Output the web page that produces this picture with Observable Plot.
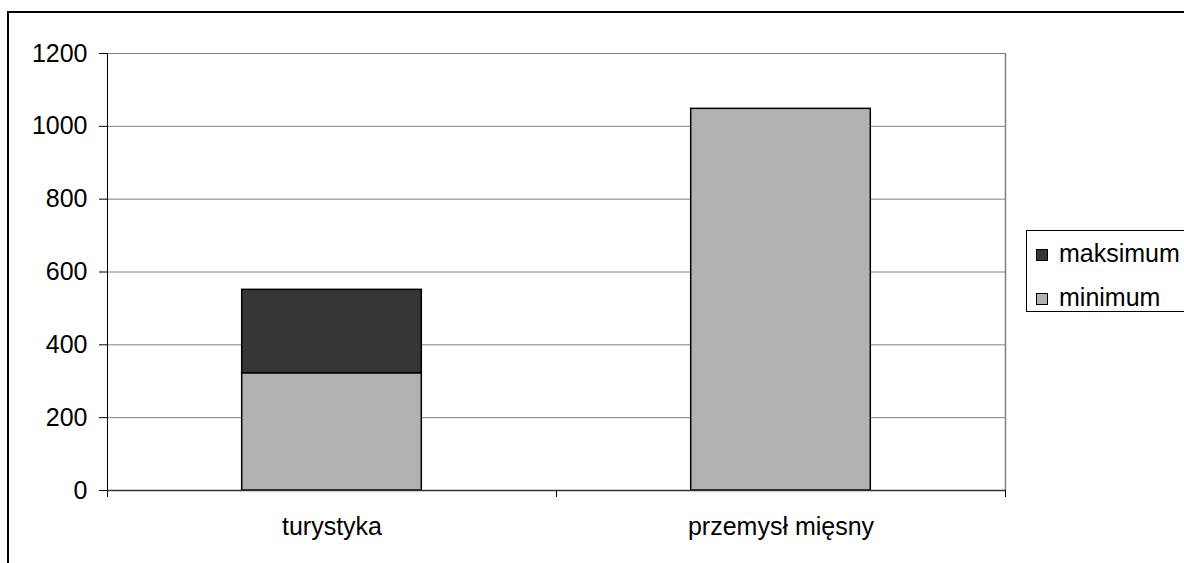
<!DOCTYPE html>
<html>
<head>
<meta charset="utf-8">
<script src="https://cdn.jsdelivr.net/npm/d3@7"></script>
<script src="https://cdn.jsdelivr.net/npm/@observablehq/plot@0.6"></script>
<style>
  html, body { margin: 0; padding: 0; background: #fff; }
  #wrap { position: relative; width: 1184px; height: 563px; overflow: hidden; font-family: "Liberation Sans", Arial, sans-serif; }
  #chart { position: absolute; left: 0; top: 0; }
  #border { position: absolute; left: 7px; top: 11px; width: 1400px; height: 800px; border: 2px solid #000; box-sizing: border-box; pointer-events: none; }
  #legend { position: absolute; left: 1026px; top: 230px; width: 200px; height: 82px; border: 1px solid #000; box-sizing: border-box; background: #fff; }
  .item { position: absolute; left: 9px; font-size: 25px; line-height: 25px; color: #000; white-space: nowrap; }
  .sw { display: inline-block; width: 10px; height: 10px; border: 1px solid #000; margin-right: 11px; vertical-align: 1px; }
</style>
</head>
<body>
<div id="wrap">
  <div id="chart"></div>
  <div id="border"></div>
  <div id="legend"></div>
</div>
<script>
const categories = ["turystyka", "przemysł mięsny"];
const minimum = [322, 1048];
const maksimum = [551, 1048];
const yTicks = [0, 200, 400, 600, 800, 1000, 1200];
const seriesNames = ["maksimum", "minimum"];
const seriesColors = ["#363636", "#b2b2b2"];

const rows = categories.map((c, i) => ({cat: c, i, min: minimum[i], max: maksimum[i]}));
const barHalf = 0.2;

const chart = Plot.plot({
  width: 1184,
  height: 563,
  marginLeft: 107,
  marginRight: 179,
  marginTop: 53,
  marginBottom: 73,
  style: {fontFamily: "Liberation Sans, Arial, sans-serif", fontSize: "25px", background: "transparent", color: "#000"},
  x: {domain: [0, categories.length], label: null},
  y: {domain: [0, 1200], label: null},
  marks: [
    Plot.gridY(yTicks, {stroke: "#808080", strokeOpacity: 1, strokeWidth: 1}),
    Plot.ruleX([categories.length], {stroke: "#808080", strokeWidth: 1.5}),
    Plot.rectY(rows, {x1: d => d.i + 0.5 - barHalf, x2: d => d.i + 0.5 + barHalf, y1: 0, y2: "min", fill: seriesColors[1], stroke: "#000", strokeWidth: 1.5}),
    Plot.rectY(rows.filter(d => d.max > d.min), {x1: d => d.i + 0.5 - barHalf, x2: d => d.i + 0.5 + barHalf, y1: "min", y2: "max", fill: seriesColors[0], stroke: "#000", strokeWidth: 1.5}),
    Plot.ruleY([0], {stroke: "#333", strokeWidth: 1.5}),
    Plot.ruleX([0], {stroke: "#000", strokeWidth: 1}),
    Plot.axisY(yTicks, {tickSize: 8, tickPadding: 12, fontSize: 25, label: null, stroke: "#000", tickFormat: d => String(d)}),
    Plot.axisX(d3.range(categories.length + 1), {tickSize: 7, tickFormat: () => "", label: null, stroke: "#000"}),
    Plot.axisX(categories.map((c, i) => i + 0.5), {tickSize: 0, tickPadding: 27, fontSize: 25, label: null, tickFormat: v => categories[Math.round(v - 0.5)]})
  ]
});
document.getElementById("chart").appendChild(chart);

const legend = document.getElementById("legend");
seriesNames.forEach((name, k) => {
  const div = document.createElement("div");
  div.className = "item";
  div.style.top = (k === 0 ? 10 : 54) + "px";
  div.innerHTML = `<span class="sw" style="background:${seriesColors[k]}"></span>${name}`;
  legend.appendChild(div);
});
</script>
</body>
</html>
